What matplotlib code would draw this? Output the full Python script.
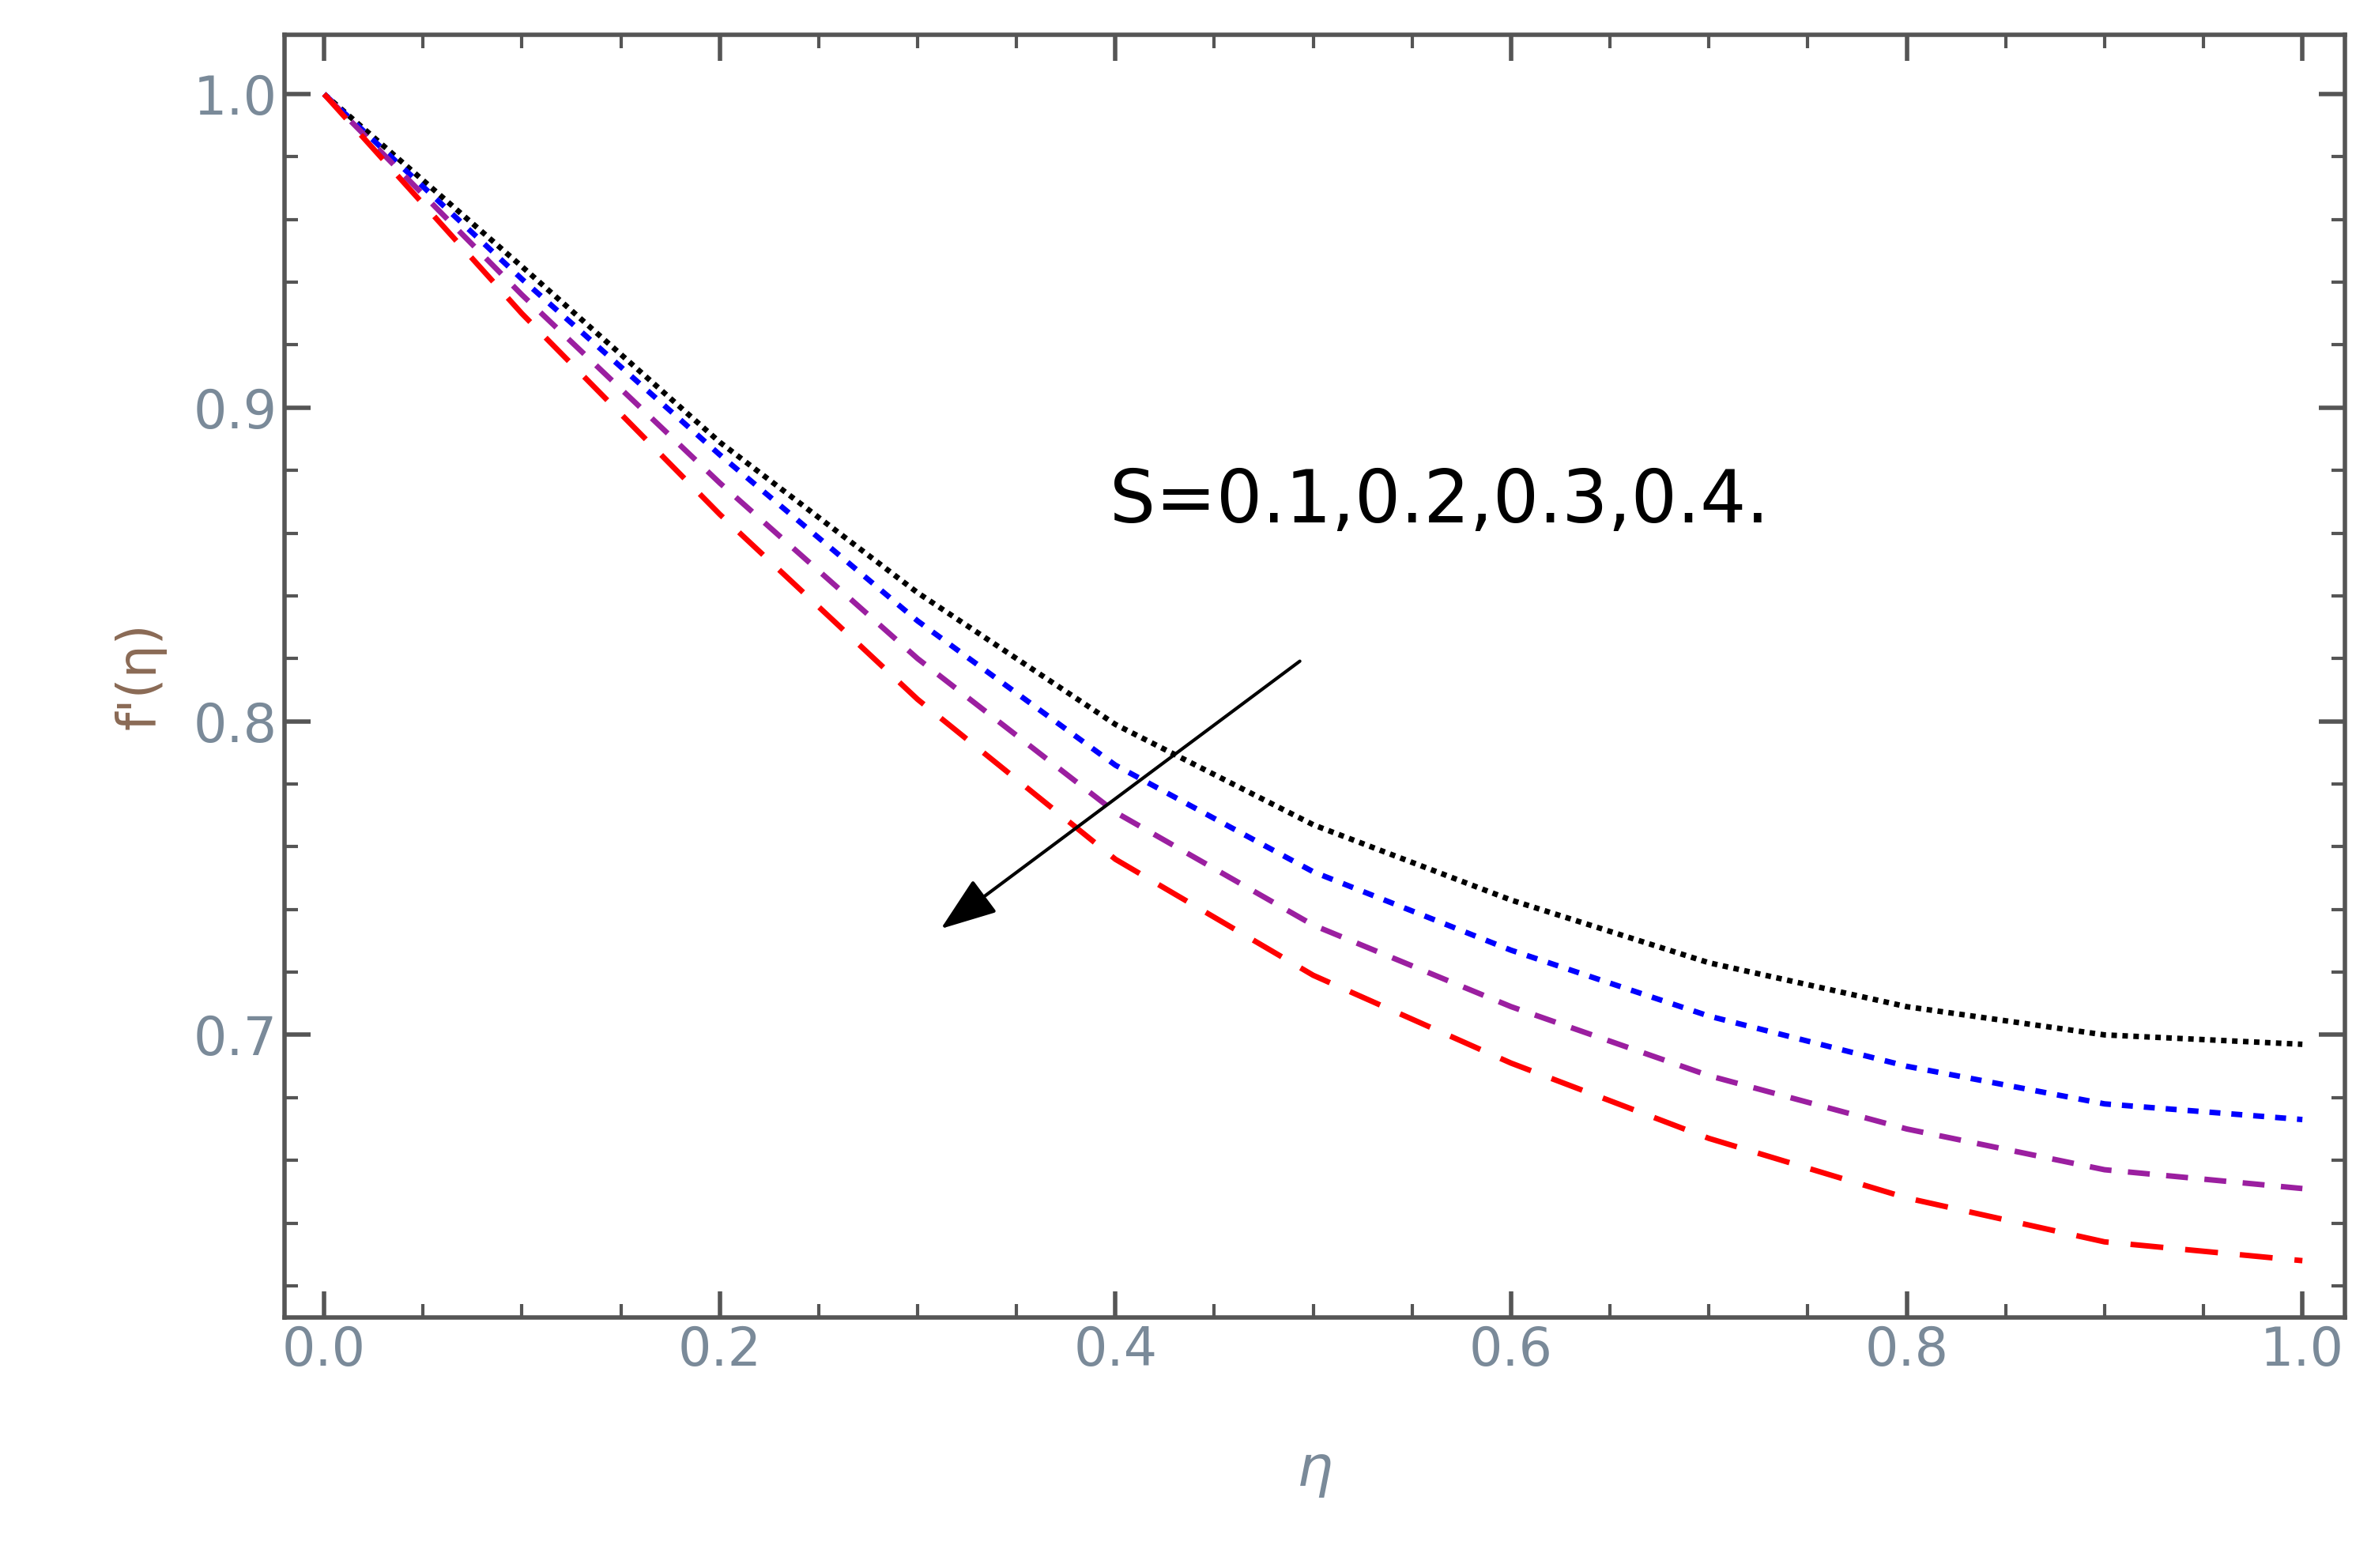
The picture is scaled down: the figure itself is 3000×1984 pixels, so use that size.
import matplotlib.pyplot as plt
from matplotlib.ticker import MultipleLocator

eta = [0.0, 0.1, 0.2, 0.3, 0.4, 0.5, 0.6, 0.7, 0.8, 0.9, 1.0]
f_s01 = [1.0, 0.945, 0.889, 0.841, 0.799, 0.767, 0.743, 0.723, 0.709, 0.700, 0.697]
f_s02 = [1.0, 0.941, 0.885, 0.832, 0.786, 0.752, 0.727, 0.706, 0.690, 0.678, 0.673]
f_s03 = [1.0, 0.936, 0.876, 0.820, 0.771, 0.735, 0.709, 0.687, 0.670, 0.657, 0.651]
f_s04 = [1.0, 0.930, 0.866, 0.807, 0.756, 0.719, 0.691, 0.667, 0.648, 0.634, 0.628]

fig = plt.figure(figsize=(15, 9.92), dpi=200)
ax = fig.add_axes([0.12, 0.16, 0.869, 0.818])

ax.plot(eta, f_s01, color='black', ls=(0, (1, 1)), lw=2.5)
ax.plot(eta, f_s02, color='blue', ls=(0, (2, 2)), lw=2.5)
ax.plot(eta, f_s03, color='#9b1fa0', ls=(0, (4, 3)), lw=2.5)
ax.plot(eta, f_s04, color='red', ls=(0, (6, 4)), lw=2.5)

ax.set_xlim(-0.02, 1.0215)
ax.set_ylim(0.61, 1.019)
ax.xaxis.set_major_locator(MultipleLocator(0.2))
ax.xaxis.set_minor_locator(MultipleLocator(0.05))
ax.yaxis.set_major_locator(MultipleLocator(0.1))
ax.yaxis.set_minor_locator(MultipleLocator(0.02))
ax.tick_params(which='both', direction='in', top=True, right=True, colors='#555555',
               labelcolor='#7a8a99', labelsize=24)
ax.tick_params(which='major', length=12, width=2)
ax.tick_params(which='minor', length=6, width=1.5)
for s in ax.spines.values():
    s.set_color('#555555')
    s.set_linewidth(2)

ax.set_xlabel('η', fontsize=26, color='#7a8a99', style='italic', labelpad=30)
ax.set_ylabel("f'(η)", fontsize=24, color='#8a6a55', labelpad=12)

ax.text(0.397, 0.87, 'S=0.1,0.2,0.3,0.4.', fontsize=33, va='center', ha='left')
ax.annotate('', xy=(0.31, 0.733), xytext=(0.495, 0.82),
            arrowprops=dict(arrowstyle='-|>,head_length=2.2,head_width=0.8', color='black', lw=1.5))

fig.savefig('out.png', dpi=200)
